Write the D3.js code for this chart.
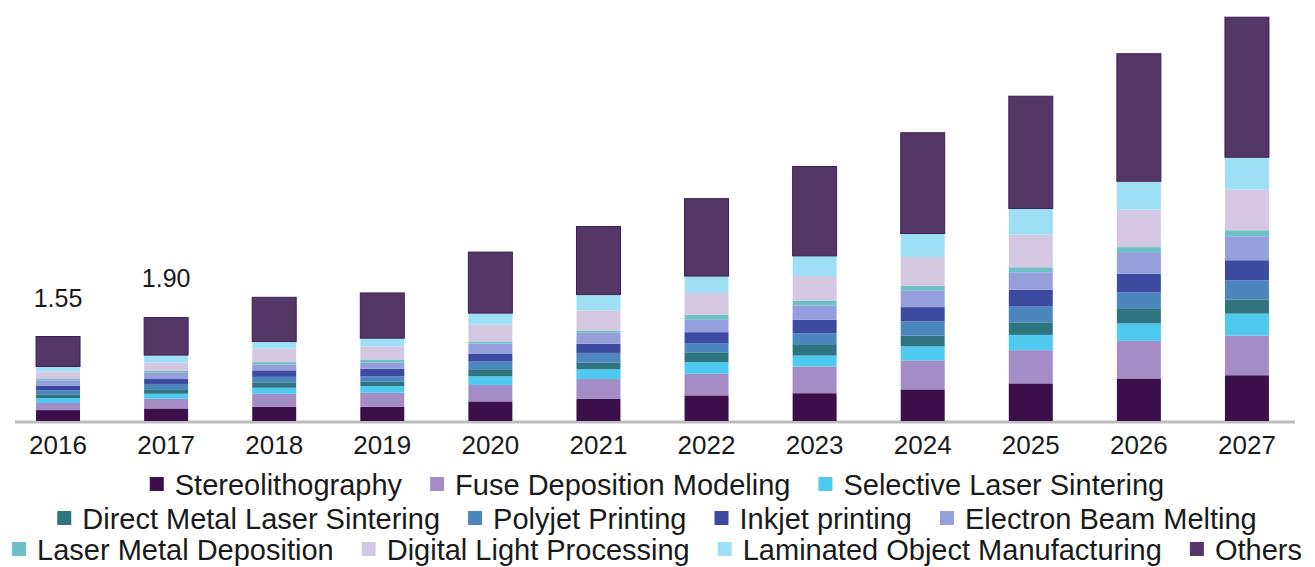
<!DOCTYPE html>
<html>
<head>
<meta charset="utf-8">
<script src="https://cdn.jsdelivr.net/npm/d3@7"></script>
<style>
  html, body { margin: 0; padding: 0; background: #fff; }
  svg { display: block; font-family: "Liberation Sans", Arial, sans-serif; }
</style>
</head>
<body>
<svg id="chart" width="1315" height="567"></svg>
<script>
const years = ["2016","2017","2018","2019","2020","2021","2022","2023","2024","2025","2026","2027"];
const seriesNames = ["Stereolithography","Fuse Deposition Modeling","Selective Laser Sintering","Direct Metal Laser Sintering","Polyjet Printing","Inkjet printing","Electron Beam Melting","Laser Metal Deposition","Digital Light Processing","Laminated Object Manufacturing","Others"];
const seriesColors = ["#3a0f4a","#a48dc6","#4ec9f0","#2e7580","#4b86bf","#3c4aa0","#949fdc","#6dc0c6","#d3c7e2","#9de0f5","#553767"];

const stereolithography = [0.20,0.23,0.26,0.26,0.36,0.41,0.47,0.51,0.58,0.69,0.78,0.84];
const fuseDeposition    = [0.13,0.18,0.24,0.26,0.30,0.36,0.40,0.49,0.53,0.61,0.69,0.73];
const selectiveLaser    = [0.09,0.09,0.11,0.12,0.16,0.18,0.21,0.20,0.26,0.28,0.32,0.40];
const directMetalLaser  = [0.07,0.07,0.10,0.08,0.13,0.12,0.18,0.21,0.20,0.23,0.28,0.26];
const polyjetPrinting   = [0.07,0.11,0.10,0.10,0.14,0.18,0.17,0.20,0.26,0.29,0.29,0.35];
const inkjetPrinting    = [0.09,0.09,0.12,0.14,0.14,0.17,0.20,0.25,0.26,0.31,0.34,0.37];
const electronBeam      = [0.09,0.12,0.11,0.11,0.19,0.20,0.23,0.26,0.31,0.32,0.40,0.44];
const laserMetalDep     = [0.03,0.03,0.04,0.06,0.04,0.04,0.09,0.09,0.08,0.09,0.09,0.11];
const digitalLight      = [0.14,0.15,0.25,0.24,0.31,0.37,0.40,0.45,0.53,0.60,0.69,0.75];
const laminatedObject   = [0.09,0.14,0.13,0.15,0.21,0.29,0.31,0.37,0.43,0.48,0.52,0.59];
const others            = [0.55,0.69,0.81,0.83,1.12,1.25,1.42,1.64,1.85,2.06,2.34,2.57];

const valueLabels = { "2016": "1.55", "2017": "1.90" };

const seriesValues = [stereolithography, fuseDeposition, selectiveLaser, directMetalLaser,
  polyjetPrinting, inkjetPrinting, electronBeam, laserMetalDep, digitalLight, laminatedObject, others];

const rows = years.map((yr, i) => {
  const r = { year: yr };
  seriesNames.forEach((s, k) => { r[s] = seriesValues[k][i]; });
  return r;
});

const svg = d3.select("#chart");

const x = d3.scaleBand().domain(years).range([4, 1301]).paddingInner(0.593).paddingOuter(0.2965);
const y = d3.scaleLinear().domain([0, 7.7]).range([421, 1.4]);
const color = d3.scaleOrdinal().domain(seriesNames).range(seriesColors);

const stacked = d3.stack().keys(seriesNames)(rows);

// axis line
svg.append("line")
  .attr("x1", x.range()[0] + 11).attr("x2", x.range()[1] - 6)
  .attr("y1", y(0) + 1).attr("y2", y(0) + 1)
  .attr("stroke", "#bdbdbd").attr("stroke-width", 3);

// bars
const g = svg.append("g");
g.selectAll("g.layer").data(stacked).join("g")
  .attr("class", "layer")
  .attr("fill", d => color(d.key))
  .selectAll("rect").data(d => d.map(p => Object.assign(p, { key: d.key }))).join("rect")
  .attr("x", d => x(d.data.year))
  .attr("width", x.bandwidth())
  .attr("y", d => y(d[1]))
  .attr("height", d => y(d[0]) - y(d[1]))
  .attr("stroke", d => d.key === "Others" ? "#3f1f52" : "none")
  .attr("stroke-width", d => d.key === "Others" ? 1 : 0);

// value labels
const totals = rows.map(r => ({ year: r.year, total: d3.sum(seriesNames, s => r[s]) }));
svg.append("g").selectAll("text")
  .data(totals.filter(t => valueLabels[t.year]))
  .join("text")
  .attr("x", d => x(d.year) + x.bandwidth() / 2)
  .attr("y", d => y(d.total) - 30)
  .attr("text-anchor", "middle")
  .attr("font-size", 25)
  .attr("fill", "#1a1a1a")
  .text(d => valueLabels[d.year]);

// x axis labels
const axis = svg.append("g")
  .attr("transform", `translate(0,${y(0)})`)
  .call(d3.axisBottom(x).tickSize(0).tickPadding(15));
axis.select(".domain").remove();
axis.selectAll("text").attr("font-size", 26).attr("fill", "#1a1a1a")
  .attr("font-family", "Liberation Sans, Arial, sans-serif");

// legend
const legendRows = [
  seriesNames.slice(0, 3),
  seriesNames.slice(3, 7),
  seriesNames.slice(7, 11)
];
const legendBaselines = [495, 529, 560];
const legendCenter = 657;
const fontSize = 29;
const sw = 14, swGap = 11, itemGap = 28;

legendRows.forEach((items, ri) => {
  const rowG = svg.append("g");
  let cursor = 0;
  items.forEach(name => {
    const it = rowG.append("g").attr("transform", `translate(${cursor},0)`);
    it.append("rect")
      .attr("x", 0).attr("y", legendBaselines[ri] - 18)
      .attr("width", sw).attr("height", sw)
      .attr("fill", color(name));
    const t = it.append("text")
      .attr("x", sw + swGap).attr("y", legendBaselines[ri])
      .attr("font-size", fontSize).attr("fill", "#1a1a1a")
      .text(name);
    const w = t.node().getComputedTextLength();
    cursor += sw + swGap + w + itemGap;
  });
  const total = cursor - itemGap;
  rowG.attr("transform", `translate(${legendCenter - total / 2},0)`);
});
</script>
</body>
</html>
